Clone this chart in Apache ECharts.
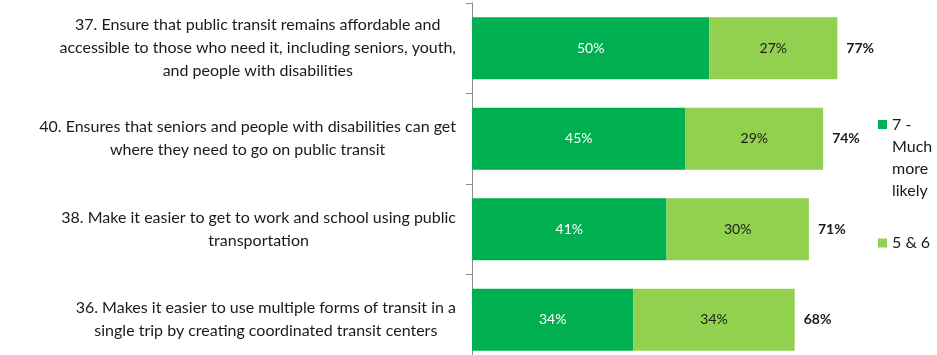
<!DOCTYPE html>
<html>
<head>
<meta charset="utf-8">
<script src="https://cdn.jsdelivr.net/npm/echarts@6/dist/echarts.min.js"></script>
<style>
  html, body { margin: 0; padding: 0; background: #fff; }
  #chart { width: 937px; height: 355px; }
</style>
</head>
<body>
<div id="chart"></div>
<script>
// Survey items, listed top to bottom, with their hand-set line breaks
const items = [
  '37. Ensure that public transit remains affordable and\naccessible to those who need it, including seniors, youth,\nand people with disabilities',
  '40. Ensures that seniors and people with disabilities can get\nwhere they need to go on public transit',
  '38. Make it easier to get to work and school using public\ntransportation',
  '36. Makes it easier to use multiple forms of transit in a\nsingle trip by creating coordinated transit centers'
];
// Share answering 7 (much more likely) and 5 & 6, in percent
const muchMoreLikely = [50, 45, 41, 34];
const fiveAndSix = [27, 29, 30, 34];
const seriesNames = ['7 - Much more likely', '5 & 6'];

const totals = muchMoreLikely.map((v, i) => v + fiveAndSix[i]);

const FONT = 'Lato, "Open Sans", sans-serif';
const DARK = '#00B050';
const LIGHT = '#92D050';

const chart = echarts.init(document.getElementById('chart'));
chart.setOption({
  animation: false,
  grid: {
    left: 472, top: 3, bottom: -10, width: 474.5,
    containLabel: false, outerBoundsMode: 'none'
  },
  xAxis: { type: 'value', min: 0, max: 100, show: false },
  yAxis: {
    type: 'category',
    inverse: true,
    data: items,
    axisLine: { show: true, lineStyle: { color: '#8c8c8c', width: 1 } },
    axisTick: { show: true, length: 6, lineStyle: { color: '#8c8c8c' } },
    axisLabel: {
      margin: 16,
      align: 'right',
      formatter: v => v.split('\n').map(l => '{c|' + l + '}').join('\n'),
      rich: {
        c: { align: 'center', fontFamily: FONT, fontSize: 16, lineHeight: 23, color: '#1a1a1a' }
      }
    }
  },
  legend: [
    {
      // multi-line entry: the swatch sits beside the first line of the text
      data: [seriesNames[0]],
      orient: 'vertical',
      left: 878, top: 113.5, padding: 0,
      itemWidth: 9, itemHeight: 88, itemGap: 0,
      icon: 'path://M0,0H0.01V0.01H0Z M0,6.5H9V15.5H0Z M0,88H0.01V88.01H0Z',
      formatter: () => '7 -\nMuch\nmore\nlikely',
      textStyle: { fontFamily: FONT, fontSize: 16, lineHeight: 22, color: '#1a1a1a' }
    },
    {
      data: [seriesNames[1]],
      orient: 'vertical',
      left: 878, top: 235, padding: 0,
      itemWidth: 9, itemHeight: 9,
      icon: 'rect',
      textStyle: { fontFamily: FONT, fontSize: 16, color: '#1a1a1a' }
    }
  ],
  series: [
    {
      name: seriesNames[0],
      type: 'bar',
      stack: 'share',
      barWidth: 62,
      data: muchMoreLikely,
      itemStyle: { color: DARK },
      label: {
        show: true, position: 'inside', formatter: '{c}%',
        color: '#ffffff', fontFamily: FONT, fontSize: 14
      }
    },
    {
      name: seriesNames[1],
      type: 'bar',
      stack: 'share',
      barWidth: 62,
      data: fiveAndSix,
      itemStyle: { color: LIGHT },
      label: {
        show: true, position: 'inside', formatter: '{c}%',
        color: '#1a1a1a', fontFamily: FONT, fontSize: 14
      }
    },
    {
      name: 'Total',
      type: 'bar',
      barWidth: 62,
      barGap: '-100%',
      data: totals,
      itemStyle: { color: 'rgba(0,0,0,0)' },
      z: 1,
      label: {
        show: true, position: 'right', distance: 9, formatter: '{c}%',
        color: '#1a1a1a', fontFamily: FONT, fontSize: 14, fontWeight: 'bold'
      }
    }
  ]
});
</script>
</body>
</html>
